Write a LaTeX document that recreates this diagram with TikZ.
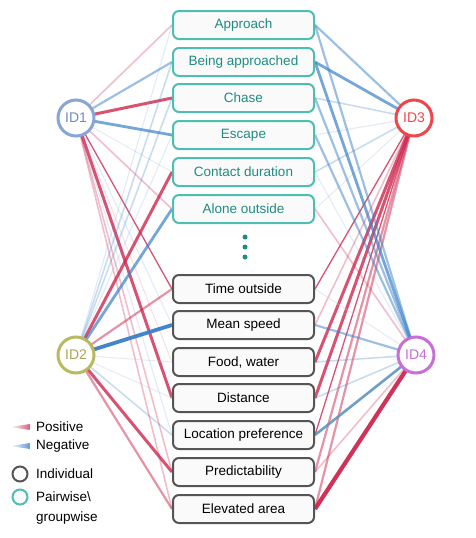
\documentclass[tikz,border=0pt]{standalone}
\usepackage{fontspec}
\setmainfont{Liberation Sans}
\usetikzlibrary{backgrounds}
\definecolor{posc}{RGB}{205,40,78}
\definecolor{negc}{RGB}{58,128,200}
\definecolor{steel}{RGB}{95,150,190}
\definecolor{fnt}{RGB}{190,205,225}
\definecolor{teala}{RGB}{78,190,178}
\definecolor{tealb}{RGB}{30,140,128}
\definecolor{graya}{RGB}{85,85,85}
\definecolor{boxfill}{RGB}{250,250,250}
\definecolor{cid1}{RGB}{135,165,215}
\definecolor{cid2}{RGB}{185,185,95}
\definecolor{cid3}{RGB}{240,70,75}
\definecolor{cid4}{RGB}{200,110,215}
\tikzset{
  box/.style={draw, rounded corners=6pt, line width=2pt, fill=boxfill, minimum width=141pt, minimum height=28pt, inner sep=0pt, font=\fontsize{13.5}{15}\selectfont},
  pair/.style={box, draw=teala, text=tealb},
  indiv/.style={box, draw=graya, text=black},
  idc/.style={circle, line width=3pt, fill=white, minimum size=36pt, inner sep=0pt, font=\fontsize{14}{16}\selectfont},
  lg/.style={anchor=west, inner sep=0pt, font=\fontsize{13.5}{15}\selectfont},
  p0/.style={draw=posc, draw opacity=0.15, line width=1pt},
  p1/.style={draw=posc, draw opacity=0.3, line width=1.6pt},
  p2/.style={draw=posc, draw opacity=0.5, line width=2.2pt},
  pt/.style={draw=posc, draw opacity=0.8, line width=1.3pt},
  p3/.style={draw=posc, draw opacity=0.8, line width=3pt},
  p4/.style={draw=posc, draw opacity=0.95, line width=4.2pt},
  f0/.style={draw=fnt, draw opacity=0.4, line width=1pt},
  n0/.style={draw=negc, draw opacity=0.15, line width=1.2pt},
  n1/.style={draw=negc, draw opacity=0.28, line width=1.6pt},
  n2/.style={draw=negc, draw opacity=0.5, line width=2.2pt},
  n3/.style={draw=negc, draw opacity=0.7, line width=2.8pt},
  n4/.style={draw=negc, draw opacity=0.95, line width=3.8pt},
  ns/.style={draw=steel, draw opacity=0.9, line width=2.6pt},
  tdot/.style={circle, fill=tealb, inner sep=0pt, minimum size=5pt},
  lgc/.style={circle, line width=2pt, fill=boxfill, minimum size=15pt, inner sep=0pt},
}
\begin{document}
\begin{tikzpicture}[x=1pt, y=-1pt]
\useasboundingbox (0,0) rectangle (476,538);
% nodes
\node[pair] (appr) at (243.5,25) {Approach};
\node[pair] (bapp) at (243.5,62) {Being approached};
\node[pair] (chase) at (243.5,98) {Chase};
\node[pair] (esc) at (243.5,135) {Escape};
\node[pair] (cont) at (243.5,172) {Contact duration};
\node[pair] (alone) at (243.5,209) {Alone outside};
\node[tdot] (d1) at (245,237) {};
\node[tdot] (d2) at (245,247) {};
\node[tdot] (d3) at (245,257) {};
\node[indiv] (time) at (243.5,289) {Time outside};
\node[indiv] (speed) at (243.5,325) {Mean speed};
\node[indiv] (food) at (243.5,362) {Food, water};
\node[indiv] (dist) at (243.5,398) {Distance};
\node[indiv] (loc) at (243.5,435) {Location preference};
\node[indiv] (pred) at (243.5,472) {Predictability};
\node[indiv] (elev) at (243.5,509) {Elevated area};
\node[idc, draw=cid1, text=cid1!85!black] (id1) at (76,118) {ID1};
\node[idc, draw=cid2, text=cid2!90!black] (id2) at (76,355) {ID2};
\node[idc, draw=cid3, text=cid3] (id3) at (414,118) {ID3};
\node[idc, draw=cid4, text=cid4] (id4) at (416,355) {ID4};
% edges
\begin{scope}[on background layer]
% ID1
\draw[p1] (id1.center) -- (appr.west);
\draw[n2] (id1.center) -- (bapp.west);
\draw[p3] (id1.center) -- (chase.west);
\draw[n3] (id1.center) -- (esc.west);
\draw[f0] (id1.center) -- (cont.west);
\draw[p1] (id1.center) -- (alone.west);
\draw[pt] (id1.center) -- (time.west);
\draw[n0] (id1.center) -- (speed.west);
\draw[p0] (id1.center) -- (food.west);
\draw[p3] (id1.center) -- (dist.west);
\draw[n0] (id1.center) -- (loc.west);
\draw[p1] (id1.center) -- (pred.west);
\draw[p1] (id1.center) -- (elev.west);
% ID2
\draw[n0] (id2.center) -- (appr.west);
\draw[n1] (id2.center) -- (bapp.west);
\draw[n1] (id2.center) -- (chase.west);
\draw[n0] (id2.center) -- (esc.west);
\draw[p3] (id2.center) -- (cont.west);
\draw[n3] (id2.center) -- (alone.west);
\draw[p2] (id2.center) -- (time.west);
\draw[n4] (id2.center) -- (speed.west);
\draw[f0] (id2.center) -- (food.west);
\draw[f0] (id2.center) -- (dist.west);
\draw[n1] (id2.center) -- (loc.west);
\draw[p3] (id2.center) -- (pred.west);
\draw[p2] (id2.center) -- (elev.west);
% ID3
\draw[n2] (id3.center) -- (appr.east);
\draw[n3] (id3.center) -- (bapp.east);
\draw[n1] (id3.center) -- (chase.east);
\draw[n0] (id3.center) -- (esc.east);
\draw[n1] (id3.center) -- (cont.east);
\draw[f0] (id3.center) -- (alone.east);
\draw[pt] (id3.center) -- (time.east);
\draw[p1] (id3.center) -- (speed.east);
\draw[p3] (id3.center) -- (food.east);
\draw[p3] (id3.center) -- (dist.east);
\draw[pt] (id3.center) -- (loc.east);
\draw[p2] (id3.center) -- (pred.east);
\draw[p2] (id3.center) -- (elev.east);
% ID4
\draw[n2] (id4.center) -- (appr.east);
\draw[n3] (id4.center) -- (bapp.east);
\draw[n2] (id4.center) -- (chase.east);
\draw[n2] (id4.center) -- (esc.east);
\draw[n0] (id4.center) -- (cont.east);
\draw[p1] (id4.center) -- (alone.east);
\draw[f0] (id4.center) -- (time.east);
\draw[n2] (id4.center) -- (speed.east);
\draw[n1] (id4.center) -- (food.east);
\draw[n1] (id4.center) -- (dist.east);
\draw[ns] (id4.center) -- (loc.east);
\draw[p1] (id4.center) -- (pred.east);
\draw[p4] (id4.center) -- (elev.east);
\end{scope}
% legend
\coordinate (lp) at (10,427);
\coordinate (ln) at (10,446);
\shade[left color=white, right color=posc!75] (lp) -- (30,424) -- (30,430) -- cycle;
\shade[left color=white, right color=negc!80] (ln) -- (30,443) -- (30,449) -- cycle;
\node[lg] (tpos) at (36,427) {Positive};
\node[lg] (tneg) at (36,446) {Negative};
\node[lgc, draw=graya] (ci) at (20,474) {};
\node[lgc, draw=teala] (cp) at (20,497) {};
\node[lg] (tind) at (36,474) {Individual};
\node[lg] (tpw) at (36,497) {Pairwise\textbackslash};
\node[lg] (tgw) at (36,518) {groupwise};
\end{tikzpicture}
\end{document}
